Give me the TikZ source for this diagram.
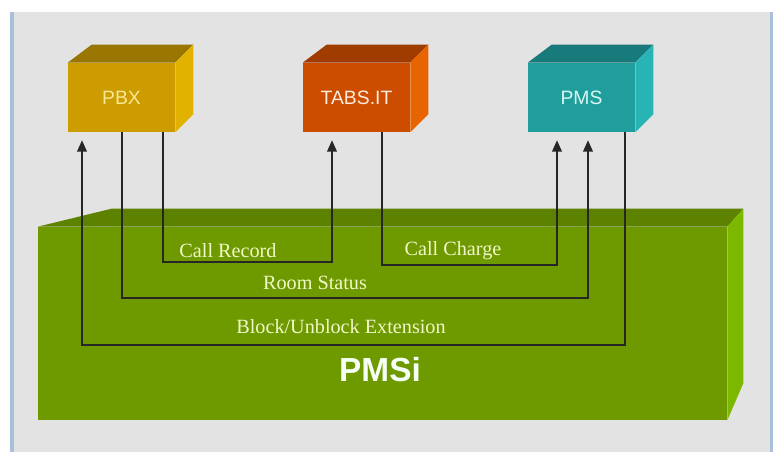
\documentclass[tikz,border=0pt]{standalone}
\usepackage{fontspec}
\setmainfont{Liberation Serif}
\setsansfont{Liberation Sans}
\definecolor{panelgray}{RGB}{227,227,227}
\definecolor{panelblue}{RGB}{168,192,218}
\definecolor{pbxfront}{RGB}{204,156,0}
\definecolor{pbxtop}{RGB}{152,118,0}
\definecolor{pbxside}{RGB}{226,178,0}
\definecolor{pbxtext}{RGB}{248,232,150}
\definecolor{tabsfront}{RGB}{204,76,0}
\definecolor{tabstop}{RGB}{160,60,0}
\definecolor{tabsside}{RGB}{232,100,0}
\definecolor{tabstext}{RGB}{255,236,220}
\definecolor{pmsfront}{RGB}{32,158,158}
\definecolor{pmstop}{RGB}{24,122,122}
\definecolor{pmsside}{RGB}{40,180,180}
\definecolor{pmstext}{RGB}{214,248,240}
\definecolor{basefront}{RGB}{110,154,0}
\definecolor{basetop}{RGB}{92,130,0}
\definecolor{baseside}{RGB}{125,184,0}
\definecolor{labeltext}{RGB}{240,248,200}
\usepackage{tikz}
\usetikzlibrary{arrows.meta,positioning,calc}

\begin{document}
\begin{tikzpicture}[x=0.02cm, y=-0.02cm,
    unit/.style={minimum width=2.14cm, minimum height=1.38cm, inner sep=0pt, font=\sffamily\fontsize{11}{13}\selectfont},
    flow/.style={line width=1pt, black!85, -{Triangle[width=5.5pt,length=6.5pt]}, shorten >=4.5pt},
    lbl/.style={font=\fontsize{11.5}{13}\selectfont, text=labeltext, inner sep=1pt}]
    \useasboundingbox (0,0) rectangle (778,452);
    \fill[white] (0,0) rectangle (778,452);
    \fill[panelgray] (10,12) rectangle (772,452);
    \fill[panelblue] (10,12) rectangle (14,452);
    \fill[panelblue] (770,12) rectangle (773,452);

    % green PMSi block
    \node[fill=basefront, minimum width=13.78cm, minimum height=3.86cm, inner sep=0pt] (base) at (382.5,323.5) {};
    \fill[basetop] (base.north west) -- ++(74,-18) -- ([shift={(16,-18)}]base.north east) -- (base.north east) -- cycle;
    \fill[baseside] (base.north east) -- ++(16,-18) -- ([shift={(16,-37)}]base.south east) -- (base.south east) -- cycle;
    \node[font=\sffamily\bfseries\fontsize{19}{22}\selectfont, text=white!96!green] (pmsi) at (380,370) {PMSi};

    % the three systems
    \node[unit, fill=pbxfront, text=pbxtext] (pbx) at (121.5,97.5) {PBX};
    \node[unit, fill=tabsfront, text=tabstext] (tabs) at (356.5,97.5) {TABS.IT};
    \node[unit, fill=pmsfront, text=pmstext] (pms) at (581.5,97.5) {PMS};
    \foreach \n/\ct/\cs in {pbx/pbxtop/pbxside, tabs/tabstop/tabsside, pms/pmstop/pmsside} {
        \fill[\ct] (\n.north west) -- ++(24,-18) -- ([shift={(18,-18)}]\n.north east) -- (\n.north east) -- cycle;
        \fill[\cs] (\n.north east) -- ++(18,-18) -- ([shift={(18,-18)}]\n.south east) -- (\n.south east) -- cycle;
    }

    % taps and levels
    \coordinate (pbx-blk) at ($(pbx.south)+(-39.5,0)$);
    \coordinate (pbx-room) at ($(pbx.south)+(0.5,0)$);
    \coordinate (pbx-rec) at ($(pbx.south)+(41.5,0)$);
    \coordinate (tabs-rec) at ($(tabs.south)+(-24.5,0)$);
    \coordinate (tabs-chg) at ($(tabs.south)+(25.5,0)$);
    \coordinate (pms-chg) at ($(pms.south)+(-24.5,0)$);
    \coordinate (pms-room) at ($(pms.south)+(6.5,0)$);
    \coordinate (pms-blk) at ($(pms.south)+(43.5,0)$);
    \coordinate (rec) at (0,262);
    \coordinate (chg) at (0,265);
    \coordinate (room) at (0,298);
    \coordinate (blk) at (0,345);

    \draw[flow] (pbx-rec) -- (pbx-rec |- rec) -| (tabs-rec);
    \draw[flow] (tabs-chg) -- (tabs-chg |- chg) -| (pms-chg);
    \draw[flow] (pbx-room) -- (pbx-room |- room) -| (pms-room);
    \draw[flow] (pms-blk) -- (pms-blk |- blk) -| (pbx-blk);

    \node[lbl] (lrec) at (228,251) {Call Record};
    \node[lbl] (lchg) at (453,251) {Call Charge};
    \node[lbl] (lroom) at (315,283) {Room Status};
    \node[lbl] (lblk) at (341,327) {Block/Unblock Extension};
\end{tikzpicture}
\end{document}
